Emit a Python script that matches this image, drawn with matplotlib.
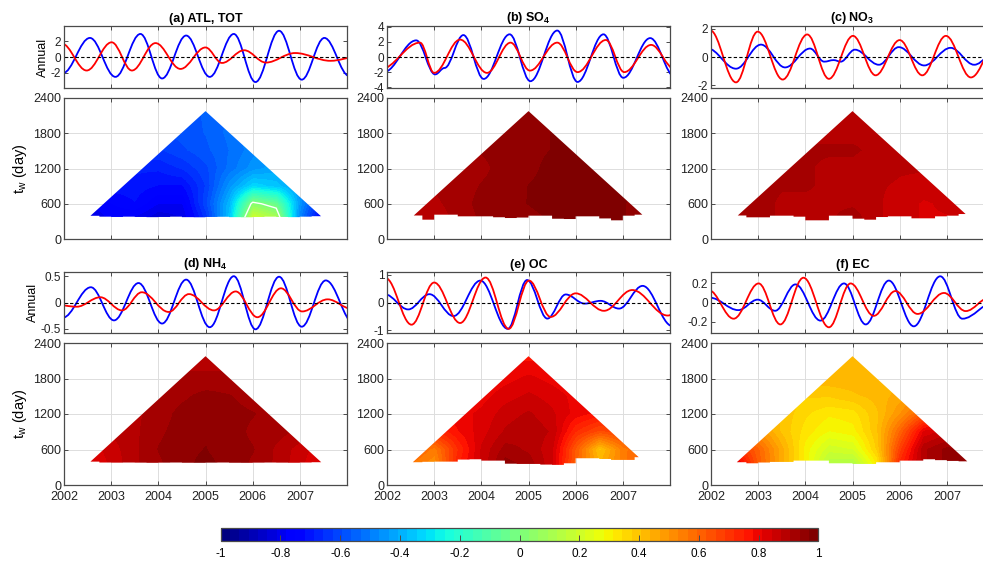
# -*- coding: utf-8 -*-
"""Annual components and windowed correlation maps, six species."""
import numpy as np
import matplotlib

matplotlib.use("Agg")
import matplotlib.pyplot as plt
from matplotlib.path import Path
from matplotlib.patches import PathPatch, Polygon
from matplotlib.colors import Normalize
from matplotlib.cm import ScalarMappable

plt.rcParams["font.family"] = ["Liberation Sans", "DejaVu Sans"]
plt.rcParams["mathtext.fontset"] = "custom"
plt.rcParams["mathtext.rm"] = "Liberation Sans"
plt.rcParams["mathtext.it"] = "Liberation Sans:italic"
plt.rcParams["mathtext.bf"] = "Liberation Sans:bold"

# ---------------------------------------------------------------- data
titles = ["(a) ATL, TOT", r"(b) SO$_\mathbf{4}$", r"(c) NO$_\mathbf{3}$",
          r"(d) NH$_\mathbf{4}$", "(e) OC", "(f) EC"]
years = [2002, 2003, 2004, 2005, 2006, 2007]
year_labels = ["2002", "2003", "2004", "2005", "2006", "2007"]
tw_ticks = [0, 600, 1200, 1800, 2400]
cbar_ticks = [-1, -0.8, -0.6, -0.4, -0.2, 0, 0.2, 0.4, 0.6, 0.8, 1]

annual_ticks = [[-2, 0, 2], [-4, -2, 0, 2, 4], [-2, 0, 2],
                [-0.5, 0, 0.5], [-1, 0, 1], [-0.2, 0, 0.2]]
annual_lim = [3.9, 4.1, 2.2, 0.58, 1.1, 0.32]

# turning points (time, value) of the annual components
a_blue = [(2001.97, -2.05), (2002.55, 2.4), (2003.09, -2.5), (2003.62, 2.9), (2004.08, -2.7),
          (2004.59, 2.7), (2005.09, -2.5), (2005.6, 2.9), (2006.06, -3.15), (2006.56, 3.3),
          (2007.04, -2.85), (2007.52, 2.4), (2008.05, -2.4)]
a_red = [(2001.95, 1.7), (2002.48, -1.7), (2003.01, 1.85), (2003.44, -1.7), (2003.94, 1.75),
         (2004.47, -1.5), (2005.0, 1.2), (2005.35, -0.75), (2005.82, 0.85), (2006.28, -0.7),
         (2006.9, 0.5), (2007.65, -0.48), (2008.2, 0.0)]
b_blue = [(2001.93, -2.0), (2002.62, 2.2), (2003.02, -2.3), (2003.22, -1.45), (2003.62, 2.9),
          (2004.05, -2.9), (2004.6, 3.0), (2005.04, -3.2), (2005.61, 3.5), (2006.04, -3.3),
          (2006.59, 3.0), (2007.01, -2.75), (2007.58, 2.5), (2008.1, -2.6)]
b_red = [(2001.85, -1.65), (2002.7, 1.9), (2003.0, -2.1), (2003.55, 2.3), (2004.12, -2.1),
         (2004.62, 1.9), (2005.03, -1.8), (2005.61, 1.9), (2006.04, -2.0), (2006.64, 2.25),
         (2007.03, -2.0), (2007.6, 1.6), (2008.1, -1.6)]
c_blue = [(2001.92, 0.62), (2002.53, -0.83), (2003.06, 0.88), (2003.57, -0.74), (2004.1, 0.6),
          (2004.4, -0.33), (2004.6, -0.22), (2004.75, -0.33), (2005.05, 0.52), (2005.56, -0.55),
          (2005.98, 0.7), (2006.52, -0.6), (2007.08, 0.65), (2007.58, -0.55), (2008.1, 0.6)]
c_red = [(2001.98, 1.9), (2002.53, -1.8), (2002.99, 1.8), (2003.52, -1.6), (2004.04, 1.6),
         (2004.5, -1.55), (2005.01, 1.5), (2005.49, -1.3), (2006.0, 1.2), (2006.48, -1.3),
         (2006.98, 1.5), (2007.51, -1.45), (2008.1, 1.3)]
d_blue = [(2001.97, -0.29), (2002.57, 0.29), (2003.06, -0.34), (2003.58, 0.37), (2004.08, -0.40),
          (2004.59, 0.435), (2005.09, -0.47), (2005.6, 0.5), (2006.06, -0.51), (2006.56, 0.49),
          (2007.04, -0.46), (2007.55, 0.42), (2008.15, -0.4)]
d_red = [(2001.8, -0.04), (2002.27, -0.08), (2002.77, 0.1), (2003.23, -0.15), (2003.65, 0.195),
         (2004.22, -0.18), (2004.65, 0.16), (2005.18, -0.15), (2005.64, 0.21), (2006.1, -0.28),
         (2006.6, 0.27), (2007.05, -0.17), (2007.59, 0.06), (2008.1, -0.12)]
e_blue = [(2001.95, 0.3), (2002.45, -0.25), (2002.9, 0.3), (2003.41, -0.49), (2003.98, 0.79),
          (2004.56, -0.95), (2004.97, 0.81), (2005.4, -0.58), (2005.79, 0.29), (2006.19, -0.04),
          (2006.53, 0.06), (2006.92, -0.22), (2007.42, 0.6), (2008.05, -0.85)]
e_red = [(2001.97, 0.88), (2002.52, -0.8), (2003.0, 0.72), (2003.55, -0.74), (2004.09, 0.9),
         (2004.58, -0.95), (2005.01, 0.79), (2005.47, -0.52), (2006.0, 0.33), (2006.6, -0.3),
         (2007.2, 0.45), (2007.95, -0.47), (2008.4, 0.0)]
f_blue = [(2001.98, 0.05), (2002.58, -0.08), (2002.99, 0.03), (2003.36, -0.087), (2003.79, 0.19),
          (2004.32, -0.19), (2004.82, 0.2), (2005.28, -0.23), (2005.77, 0.23), (2006.3, -0.25),
          (2006.86, 0.275), (2007.33, -0.17), (2008.0, 0.0)]
f_red = [(2001.95, 0.13), (2002.48, -0.17), (2003.01, 0.2), (2003.47, -0.23), (2003.96, 0.26),
         (2004.5, -0.26), (2004.96, 0.2), (2005.45, -0.14), (2005.91, 0.12), (2006.38, -0.12),
         (2006.94, 0.1), (2007.4, -0.09), (2007.9, 0.05)]

# correlation maps: columns = window centre, rows = window length t_w
grid_t = [2002.5, 2003.0, 2003.5, 2004.0, 2004.5, 2005.0, 2005.5, 2006.0, 2006.5, 2007.0, 2007.5]
grid_tw = [300, 600, 900, 1200, 1500, 1800, 2100]
a_grid = [[-0.82, -0.78, -0.8, -0.85, -0.82, -0.65, -0.35, 0.25, 0.15, -0.5, -0.82],
          [-0.78, -0.75, -0.72, -0.78, -0.78, -0.6, -0.38, 0.03, -0.05, -0.45, -0.7],
          [-0.72, -0.7, -0.7, -0.72, -0.72, -0.62, -0.45, -0.32, -0.36, -0.45, -0.6],
          [-0.66, -0.65, -0.68, -0.68, -0.65, -0.6, -0.52, -0.45, -0.42, -0.45, -0.5],
          [-0.62, -0.62, -0.63, -0.63, -0.6, -0.57, -0.53, -0.48, -0.45, -0.45, -0.45],
          [-0.62, -0.62, -0.62, -0.6, -0.58, -0.56, -0.52, -0.48, -0.45, -0.45, -0.45],
          [-0.6, -0.6, -0.6, -0.58, -0.57, -0.56, -0.53, -0.5, -0.45, -0.45, -0.45]]
b_grid = [[0.9, 0.88, 0.92, 0.94, 0.96, 0.96, 0.97, 0.98, 0.97, 0.97, 0.96],
          [0.88, 0.9, 0.92, 0.95, 0.96, 0.97, 0.98, 0.98, 0.97, 0.97, 0.96],
          [0.9, 0.91, 0.92, 0.94, 0.95, 0.97, 0.98, 0.98, 0.98, 0.97, 0.97],
          [0.93, 0.93, 0.92, 0.93, 0.95, 0.96, 0.98, 0.98, 0.98, 0.97, 0.97],
          [0.94, 0.94, 0.94, 0.94, 0.95, 0.96, 0.97, 0.98, 0.98, 0.97, 0.97],
          [0.95, 0.95, 0.95, 0.95, 0.95, 0.96, 0.97, 0.97, 0.97, 0.97, 0.97],
          [0.95, 0.95, 0.95, 0.95, 0.95, 0.95, 0.95, 0.95, 0.95, 0.95, 0.95]]
c_grid = [[0.9, 0.92, 0.9, 0.88, 0.9, 0.93, 0.88, 0.86, 0.84, 0.84, 0.85],
          [0.91, 0.92, 0.9, 0.9, 0.9, 0.9, 0.88, 0.86, 0.84, 0.85, 0.86],
          [0.92, 0.92, 0.91, 0.91, 0.9, 0.9, 0.88, 0.87, 0.86, 0.86, 0.87],
          [0.92, 0.92, 0.91, 0.91, 0.9, 0.9, 0.89, 0.88, 0.88, 0.88, 0.88],
          [0.91, 0.91, 0.91, 0.91, 0.91, 0.91, 0.9, 0.9, 0.9, 0.9, 0.9],
          [0.9, 0.9, 0.9, 0.9, 0.9, 0.9, 0.9, 0.9, 0.9, 0.9, 0.9],
          [0.9, 0.9, 0.9, 0.9, 0.9, 0.9, 0.9, 0.9, 0.9, 0.9, 0.9]]
d_grid = [[0.8, 0.85, 0.9, 0.93, 0.96, 0.98, 0.96, 0.93, 0.9, 0.85, 0.8],
          [0.82, 0.86, 0.9, 0.94, 0.96, 0.97, 0.95, 0.94, 0.9, 0.86, 0.82],
          [0.85, 0.88, 0.9, 0.93, 0.955, 0.965, 0.955, 0.93, 0.92, 0.9, 0.86],
          [0.88, 0.9, 0.9, 0.92, 0.95, 0.96, 0.95, 0.94, 0.92, 0.9, 0.9],
          [0.9, 0.9, 0.9, 0.91, 0.93, 0.95, 0.94, 0.92, 0.91, 0.9, 0.9],
          [0.91, 0.91, 0.91, 0.91, 0.91, 0.91, 0.91, 0.91, 0.91, 0.91, 0.91],
          [0.9, 0.9, 0.9, 0.9, 0.9, 0.9, 0.9, 0.9, 0.9, 0.9, 0.9]]
e_grid = [[0.55, 0.5, 0.75, 0.85, 0.96, 0.93, 0.85, 0.6, 0.45, 0.55, 0.65],
          [0.62, 0.55, 0.72, 0.85, 0.92, 0.9, 0.85, 0.62, 0.4, 0.55, 0.62],
          [0.72, 0.72, 0.78, 0.83, 0.88, 0.9, 0.87, 0.72, 0.65, 0.68, 0.7],
          [0.77, 0.77, 0.8, 0.82, 0.86, 0.88, 0.85, 0.8, 0.77, 0.77, 0.77],
          [0.78, 0.78, 0.78, 0.8, 0.83, 0.85, 0.83, 0.8, 0.79, 0.78, 0.78],
          [0.78, 0.78, 0.78, 0.78, 0.8, 0.82, 0.8, 0.78, 0.78, 0.78, 0.78],
          [0.78, 0.78, 0.78, 0.78, 0.78, 0.78, 0.78, 0.78, 0.78, 0.78, 0.78]]
f_grid = [[0.9, 0.62, 0.45, 0.3, 0.12, 0.1, 0.3, 0.75, 0.9, 0.95, 0.95],
          [0.72, 0.6, 0.45, 0.3, 0.2, 0.22, 0.38, 0.68, 0.9, 0.95, 0.92],
          [0.55, 0.5, 0.4, 0.33, 0.28, 0.3, 0.4, 0.6, 0.82, 0.86, 0.85],
          [0.46, 0.45, 0.4, 0.35, 0.32, 0.33, 0.4, 0.5, 0.62, 0.7, 0.7],
          [0.43, 0.43, 0.4, 0.38, 0.38, 0.4, 0.42, 0.45, 0.5, 0.55, 0.55],
          [0.43, 0.43, 0.43, 0.43, 0.43, 0.43, 0.43, 0.43, 0.43, 0.43, 0.43],
          [0.43, 0.43, 0.43, 0.43, 0.43, 0.43, 0.43, 0.43, 0.43, 0.43, 0.43]]

# record span and the shortest valid window (stepped lower edge of each map)
rec_start, rec_end = 2002.02, 2007.98
step_edges = [2002.75, 2003.0, 2003.25, 2003.5, 2003.75, 2004.0, 2004.25, 2004.5, 2004.75, 2005.0,
              2005.25, 2005.5, 2005.75, 2006.0, 2006.25, 2006.5, 2006.75, 2007.0, 2007.25]
a_low = [395, 380, 375, 380, 375, 372, 375, 380, 372, 370, 375, 378, 372, 370, 375, 380, 375, 372, 380, 388]
b_low = [400, 329, 414, 414, 386, 386, 386, 370, 357, 365, 397, 397, 345, 340, 386, 386, 350, 318, 397, 414]
c_low = [400, 369, 369, 397, 397, 380, 318, 318, 397, 397, 346, 329, 374, 386, 386, 352, 352, 386, 397, 425]
d_low = [395, 380, 378, 380, 378, 375, 378, 380, 376, 375, 378, 380, 376, 375, 378, 380, 378, 376, 380, 385]
e_low = [385, 392, 395, 395, 430, 435, 412, 412, 360, 356, 356, 345, 340, 367, 452, 452, 440, 424, 424, 470]
f_low = [385, 367, 380, 390, 390, 412, 412, 412, 367, 367, 356, 356, 384, 384, 412, 412, 435, 420, 407, 400]

blues = [a_blue, b_blue, c_blue, d_blue, e_blue, f_blue]
reds = [a_red, b_red, c_red, d_red, e_red, f_red]
grids = [a_grid, b_grid, c_grid, d_grid, e_grid, f_grid]
lows = [a_low, b_low, c_low, d_low, e_low, f_low]

# ---------------------------------------------------------------- layout
W, H = 983, 562
col_left = [64, 387, 711]
col_w = 283
rows = [((26, 88), (98, 239)), ((272, 333), (343, 485))]
AX_COL = "#4a4a4a"
jet64 = plt.get_cmap("jet", 64)


def px_box(left, top, bottom):
    return [left / W, 1 - bottom / H, col_w / W, (bottom - top) / H]


def turning_path(knots):
    """Bezier path through turning points, flat tangent at each one."""
    k = 1 - 2 / np.pi
    verts = [knots[0]]
    codes = [Path.MOVETO]
    for (t0, v0), (t1, v1) in zip(knots[:-1], knots[1:]):
        dt = t1 - t0
        verts += [(t0 + k * dt, v0), (t1 - k * dt, v1), (t1, v1)]
        codes += [Path.CURVE4] * 3
    return Path(verts, codes)


def window_polygon(ax, low):
    left = rec_start + low[0] / 730.5
    right = rec_end - low[-1] / 730.5
    edges = [left] + step_edges + [right]
    verts = [(left, low[0]), ((rec_start + rec_end) / 2, (rec_end - rec_start) * 365.25),
             (right, low[-1])]
    for i in range(len(low) - 1, -1, -1):
        verts.append((edges[i + 1], low[i]))
        verts.append((edges[i], low[i]))
    poly = Polygon(verts, closed=True, transform=ax.transData, fc="none", ec="none")
    ax.add_patch(poly)
    return poly


def style_axes(ax):
    for s in ax.spines.values():
        s.set_color(AX_COL)
        s.set_linewidth(0.9)
    ax.tick_params(direction="in", length=3, width=0.7, color=AX_COL,
                   top=True, right=True, labelcolor="#222222")
    ax.set_axisbelow(True)


fig = plt.figure(figsize=(W / 100, H / 100), dpi=100)

for i in range(6):
    r, c = divmod(i, 3)
    (at, ab), (ht, hb) = rows[r]

    # annual component panel
    ax = fig.add_axes(px_box(col_left[c], at, ab))
    style_axes(ax)
    ax.add_patch(PathPatch(turning_path(blues[i]), fill=False, ec="#0000ff", lw=1.3))
    ax.add_patch(PathPatch(turning_path(reds[i]), fill=False, ec="#ff0000", lw=1.3))
    ax.axhline(0, color="black", ls="--", lw=0.8, dashes=(3, 2))
    ax.set_xlim(2002, 2008)
    ax.set_ylim(-annual_lim[i], annual_lim[i])
    ax.set_xticks(years)
    ax.set_xticklabels([])
    ax.set_yticks(annual_ticks[i])
    ax.set_yticklabels([f"{v:g}" for v in annual_ticks[i]], fontsize=8.5)
    ax.tick_params(axis="y", pad=2)
    ax.grid(axis="x", color="#dddddd", lw=0.7)
    ax.set_title(titles[i], fontsize=9, fontweight="bold", pad=3)
    if c == 0:
        ax.set_ylabel("Annual", fontsize=9, labelpad=1)

    # correlation map panel
    hx = fig.add_axes(px_box(col_left[c], ht, hb))
    style_axes(hx)
    hx.grid(True, color="#dddddd", lw=0.7)
    poly = window_polygon(hx, lows[i])
    dt = grid_t[1] - grid_t[0]
    dw = grid_tw[1] - grid_tw[0]
    im = hx.imshow(grids[i], origin="lower", aspect="auto", cmap=jet64, vmin=-1, vmax=1,
                   interpolation="bilinear",
                   extent=(grid_t[0] - dt / 2, grid_t[-1] + dt / 2,
                           grid_tw[0] - dw / 2, grid_tw[-1] + dw / 2), zorder=2)
    im.set_clip_path(poly)
    if i == 0:
        cs = hx.contour(grid_t, grid_tw, grids[i], levels=[0.0], colors="white",
                        linewidths=1.0, zorder=3)
        cs.set_clip_path(poly)
    hx.set_xlim(2002, 2008)
    hx.set_ylim(0, 2400)
    hx.set_xticks(years)
    hx.set_yticks(tw_ticks)
    hx.set_yticklabels([str(v) for v in tw_ticks], fontsize=9)
    hx.tick_params(axis="y", pad=2)
    if r == 1:
        hx.set_xticklabels(year_labels, fontsize=9)
        hx.tick_params(axis="x", pad=4)
    else:
        hx.set_xticklabels([])
    if c == 0:
        hx.set_ylabel(r"t$_\mathrm{w}$ (day)", fontsize=10.5, labelpad=3)

# colour bar
cax = fig.add_axes([220.7 / W, 1 - 541 / H, (818.3 - 220.7) / W, 12.7 / H])
cb = fig.colorbar(ScalarMappable(norm=Normalize(-1, 1), cmap=jet64), cax=cax,
                  orientation="horizontal", ticks=cbar_ticks)
cb.ax.set_xticklabels([f"{v:g}" for v in cbar_ticks])
cb.ax.tick_params(direction="in", length=4, width=0.7, color=AX_COL, labelsize=8.5, pad=5)
cb.outline.set_edgecolor(AX_COL)
cb.outline.set_linewidth(0.9)

fig.savefig("out.png", dpi=100)
